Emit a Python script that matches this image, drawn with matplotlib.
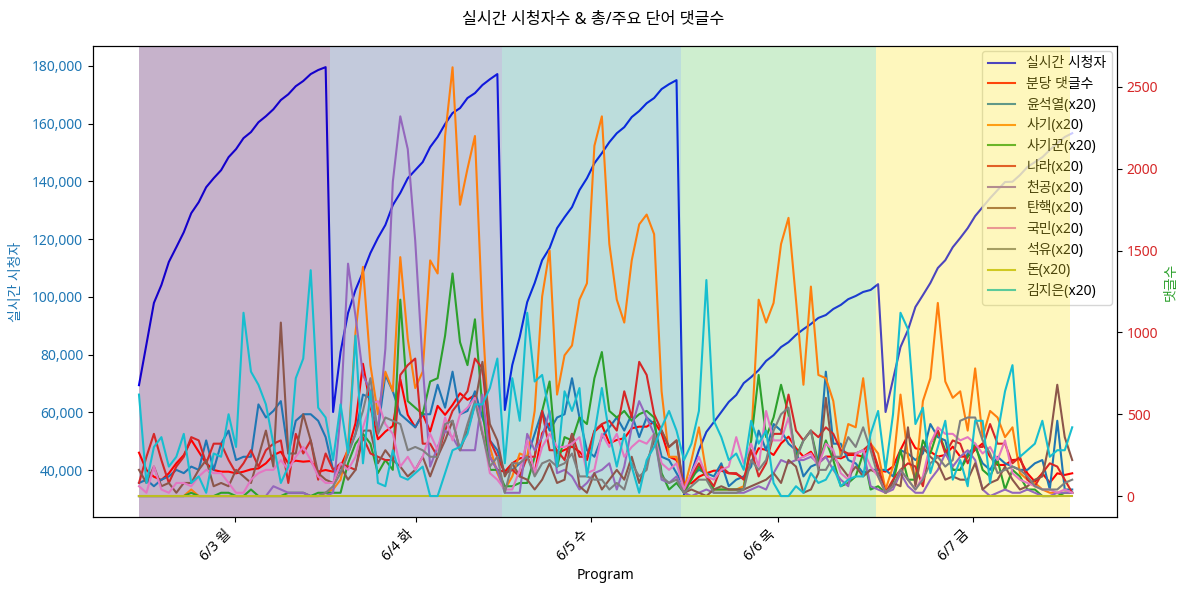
import matplotlib
matplotlib.use('Agg')
import matplotlib.pyplot as plt
import numpy as np
from matplotlib.ticker import FuncFormatter

plt.rcParams['font.family'] = ['Noto Sans', 'Noto Sans CJK KR', 'DejaVu Sans']
plt.rcParams['axes.unicode_minus'] = False

day_labels = ['6/3 월', '6/4 화', '6/5 수', '6/6 목', '6/7 금']
day_edges = [0, 25.6, 48.6, 72.6, 98.7, 124.7]

viewers = [
    69400, 83600, 97900, 104100, 112100, 117200, 122400, 129000, 132800, 138000, 141100, 143900, 148400,
    151200, 155000, 157100, 160500, 162600, 165000, 168200, 170200, 173000, 174800, 177200, 178600, 179600,
    60100, 80900, 94400, 102400, 108600, 115200, 120400, 124900, 131800, 136000, 141100, 143900, 146700,
    151900, 155400, 159900, 163700, 165400, 168900, 170600, 173400, 175400, 177200,
    60800, 76400, 86100, 98200, 104800, 112700, 116900, 123800, 127600, 131100, 137000, 141100, 146300,
    149800, 153600, 156700, 158800, 162300, 164400, 167100, 168900, 172000, 173700, 175100,
    31300, 39000, 46900, 53200, 56600, 60100, 63600, 66000, 70100, 72200, 74600, 77800, 79800, 82600, 84300,
    86800, 88800, 90600, 92700, 93700, 95800, 97200, 99200, 100300, 101700, 102400, 104400,
    60100, 71400, 82600, 88500, 96500, 100600, 104800, 110000, 112700, 117200, 120400, 123800, 128000,
    131100, 134200, 137000, 139800, 139900, 142200, 145000, 146700, 148400, 150900, 153300, 155400, 156700,
]

comments = [
    265, 159, 118, 98, 139, 200, 250, 343, 271, 200, 159, 149, 149, 139, 149, 163, 169, 200, 250, 271, 200,
    216, 210, 214, 149, 159,
    149, 180, 282, 445, 808, 547, 347, 394, 428, 714, 496, 420, 502, 394, 551, 496, 557, 628, 588, 618, 384,
    241, 159,
    149, 200, 230, 241, 139, 384, 445, 261, 282, 302, 271, 220, 394, 434, 322, 343, 353, 414, 424, 424, 455,
    384, 241, 220, 78, 78, 118, 139, 155, 155, 139, 135, 108, 200, 292, 282, 251, 322, 363, 292, 241, 271,
    200, 241, 241, 230, 251, 251, 241, 322, 159, 149,
    180, 282, 373, 292, 282, 271, 241, 251, 302, 241, 241, 282, 322, 241, 190, 190, 220, 224, 139, 88, 139,
    82, 139, 129, 139,
]

# word counts per minute, plotted x20
yoon = [
    4, 5, 3, 5, 6, 8, 7, 9, 8, 17, 8, 16, 20, 11, 12, 12, 28, 24, 26, 29, 13, 23, 25, 25, 23, 18,
    8, 7, 13, 19, 31, 30, 20, 37, 32, 25, 23, 21, 25, 25, 34, 27, 38, 25, 26, 32, 24, 17, 14,
    7, 8, 10, 12, 19, 26, 20, 24, 25, 36, 24, 14, 12, 18, 21, 24, 20, 25, 18, 24, 22, 12, 11, 7, 3, 6, 8, 7,
    6, 10, 3, 5, 6, 9, 20, 14, 22, 20, 16, 14, 6, 9, 10, 38, 16, 16, 11, 10, 7, 8, 8, 8,
    6, 14, 13, 11, 13, 22, 18, 17, 8, 8, 13, 15, 10, 8, 12, 10, 9, 8, 8, 10, 11, 2, 23, 2, 2,
]
sagi = [
    0, 0, 0, 0, 0, 0, 0, 2, 0, 0, 0, 0, 0, 0, 0, 0, 0, 0, 0, 0, 0, 0, 0, 0, 0, 1,
    2, 5, 15, 50, 70, 40, 25, 38, 32, 73, 48, 33, 38, 72, 68, 110, 131, 89, 100, 110, 55, 15, 7,
    2, 6, 13, 12, 26, 61, 75, 31, 43, 46, 60, 65, 107, 116, 77, 60, 53, 72, 83, 86, 80, 32, 12, 12, 2, 11, 21,
    7, 2, 2, 2, 2, 3, 17, 60, 53, 59, 77, 85, 60, 34, 64, 37, 36, 29, 12, 22, 21, 36, 16, 13, 2,
    9, 31, 12, 5, 29, 36, 59, 35, 30, 32, 20, 39, 18, 26, 24, 18, 21, 7, 5, 4, 2, 1, 1, 1, 1,
]
sagikkun = [
    0, 0, 0, 0, 0, 0, 0, 1, 0, 0, 0, 1, 1, 0, 0, 2, 0, 0, 0, 0, 1, 1, 1, 0, 1, 1,
    1, 1, 10, 16, 19, 16, 7, 11, 8, 60, 29, 27, 25, 35, 36, 49, 68, 47, 40, 54, 27, 8, 8,
    3, 3, 4, 4, 12, 26, 35, 9, 18, 17, 24, 22, 36, 44, 26, 24, 26, 23, 25, 26, 24, 7, 2, 4, 1, 5, 9, 6, 2, 2,
    2, 2, 2, 17, 37, 18, 24, 34, 25, 12, 17, 20, 10, 17, 11, 3, 4, 6, 13, 2, 3, 1,
    4, 14, 5, 5, 17, 13, 20, 14, 8, 8, 12, 16, 8, 6, 11, 2, 8, 6, 2, 2, 0, 0, 0, 1, 1,
]
nara = [
    4, 12, 19, 11, 4, 9, 12, 18, 17, 10, 16, 16, 11, 7, 10, 14, 9, 14, 16, 17, 4, 19, 13, 17, 5, 13,
    8, 10, 9, 8, 18, 13, 12, 11, 11, 37, 40, 42, 16, 16, 12, 20, 26, 29, 32, 42, 39, 17, 12,
    7, 8, 6, 12, 12, 26, 14, 14, 11, 19, 12, 12, 20, 22, 23, 20, 32, 24, 41, 37, 25, 20, 15, 17, 2, 6, 10, 6,
    3, 9, 7, 7, 5, 14, 6, 10, 19, 19, 31, 20, 17, 20, 18, 21, 19, 14, 13, 13, 14, 16, 9, 1,
    5, 8, 10, 9, 3, 16, 20, 13, 17, 16, 10, 15, 15, 22, 16, 16, 10, 12, 5, 3, 7, 10, 9, 5, 1,
]
cheongong = [
    0, 0, 0, 0, 0, 0, 0, 0, 0, 0, 0, 0, 0, 0, 0, 0, 0, 0, 3, 2, 1, 1, 1, 0, 0, 0,
    1, 25, 71, 55, 37, 32, 20, 45, 96, 116, 106, 78, 40, 9, 15, 20, 18, 14, 14, 14, 31, 12, 8,
    1, 1, 1, 19, 14, 18, 26, 7, 8, 6, 2, 4, 7, 8, 10, 2, 9, 21, 29, 24, 19, 5, 4, 6, 1, 0, 1, 2, 1, 1, 1, 1, 1,
    2, 3, 2, 7, 11, 10, 11, 11, 12, 10, 12, 8, 5, 3, 13, 14, 3, 2, 1,
    2, 7, 3, 1, 1, 5, 8, 13, 9, 12, 14, 11, 2, 0, 1, 2, 1, 1, 2, 1, 0, 0, 1, 1, 1,
]
tanhaek = [
    8, 4, 9, 3, 4, 1, 4, 4, 8, 11, 3, 4, 3, 8, 6, 4, 12, 20, 9, 53, 13, 13, 25, 17, 7, 5,
    4, 9, 5, 8, 20, 20, 10, 14, 11, 9, 6, 8, 12, 6, 12, 17, 23, 14, 20, 28, 41, 22, 17,
    6, 10, 6, 5, 2, 5, 10, 4, 5, 19, 3, 1, 7, 2, 5, 8, 5, 12, 4, 10, 17, 20, 15, 17, 1, 2, 1, 0, 2, 3, 2, 2, 2,
    3, 4, 5, 7, 4, 11, 9, 1, 2, 7, 30, 12, 9, 6, 9, 6, 8, 7, 1,
    4, 3, 21, 3, 15, 12, 10, 5, 6, 5, 5, 10, 2, 4, 5, 9, 5, 2, 3, 5, 6, 17, 34, 18, 11,
]
gukmin = [
    3, 1, 9, 2, 1, 4, 4, 3, 6, 8, 7, 7, 4, 1, 1, 5, 7, 8, 8, 11, 8, 12, 15, 11, 6, 4,
    4, 10, 8, 12, 21, 28, 29, 22, 19, 9, 12, 8, 12, 19, 14, 24, 17, 25, 27, 30, 20, 7, 5,
    2, 2, 8, 17, 7, 15, 19, 15, 15, 16, 18, 7, 8, 19, 15, 19, 12, 15, 17, 16, 19, 10, 8, 10, 2, 7, 12, 6, 5,
    8, 9, 18, 10, 16, 9, 26, 17, 17, 24, 11, 12, 13, 9, 16, 14, 7, 5, 13, 14, 9, 6, 1,
    3, 8, 5, 2, 6, 16, 21, 19, 19, 17, 18, 16, 13, 15, 11, 17, 7, 5, 4, 3, 2, 2, 1, 2, 1,
]
seokyu = [
    0, 0, 0, 0, 0, 0, 0, 0, 0, 0, 0, 0, 0, 0, 0, 0, 0, 0, 0, 0, 0, 0, 0, 0, 0, 1,
    3, 7, 13, 19, 26, 36, 19, 24, 23, 22, 14, 15, 14, 12, 12, 22, 23, 14, 22, 29, 19, 9, 12,
    1, 10, 10, 12, 6, 10, 11, 9, 10, 13, 6, 6, 5, 5, 2, 4, 2, 10, 6, 8, 19, 6, 4, 5, 1, 3, 5, 5, 1, 1, 1, 1, 2,
    11, 8, 11, 20, 25, 27, 11, 17, 20, 8, 8, 12, 12, 18, 15, 21, 14, 6, 1,
    3, 8, 5, 2, 5, 10, 12, 9, 11, 23, 24, 24, 17, 13, 7, 8, 9, 8, 6, 3, 2, 2, 2, 4, 5,
]
don = [0] * 126
kim = [
    31, 4, 15, 18, 9, 12, 19, 4, 6, 1, 13, 12, 25, 15, 56, 38, 34, 28, 16, 4, 9, 36, 42, 69, 27, 24,
    11, 28, 13, 49, 10, 32, 4, 3, 14, 6, 5, 7, 9, 0, 0, 7, 14, 15, 19, 28, 28, 33, 42,
    10, 36, 23, 56, 35, 37, 25, 9, 32, 26, 33, 6, 19, 33, 19, 9, 19, 9, 1, 11, 15, 21, 26, 20, 11, 16, 26, 66,
    23, 18, 11, 13, 8, 23, 16, 20, 4, 0, 0, 3, 1, 7, 4, 5, 9, 3, 5, 6, 6, 19, 26, 8,
    25, 56, 51, 22, 27, 7, 15, 23, 5, 11, 3, 23, 23, 4, 19, 32, 40, 12, 14, 16, 23, 12, 14, 14, 21,
]

word_names = ['윤석열', '사기', '사기꾼', '나라', '천공', '탄핵', '국민', '석유', '돈', '김지은']
word_counts = [yoon, sagi, sagikkun, nara, cheongong, tanhaek, gukmin, seokyu, don, kim]
word_colors = ['tab:blue', 'tab:orange', 'tab:green', 'tab:red', 'tab:purple',
               'tab:brown', 'tab:pink', 'tab:gray', 'tab:olive', 'tab:cyan']

x = np.arange(len(viewers))

fig, ax1 = plt.subplots(figsize=(11.89, 5.93), dpi=100)
fig.subplots_adjust(left=93 / 1189, right=1117 / 1189, top=1 - 46 / 593, bottom=1 - 517 / 593)
ax2 = ax1.twinx()

handles = ax1.plot(x, viewers, color='blue', label='실시간 시청자')

# spans sit on ax2 so they tint the viewer line and the legend too
span_colors = plt.cm.viridis(np.linspace(0, 1, len(day_labels)))
for i in range(len(day_labels)):
    ax2.axvspan(day_edges[i], day_edges[i + 1], color=span_colors[i], alpha=0.3, linewidth=0)

handles += ax2.plot(x, comments, color='red', label='분당 댓글수')
for name, counts, color in zip(word_names, word_counts, word_colors):
    handles += ax2.plot(x, np.array(counts) * 20, color=color, label=name + '(x20)')

ax1.set_xlim(-6.16, 131.0)
ax1.set_ylim(23716, 186930)
ax2.set_ylim(-128, 2750)

ax1.yaxis.set_major_formatter(FuncFormatter(lambda v, pos: format(int(v), ',')))
ax1.tick_params(axis='y', labelcolor='tab:blue')
ax2.tick_params(axis='y', labelcolor='tab:red')
ax1.set_ylabel('실시간 시청자', color='tab:blue', labelpad=6)
ax2.set_ylabel('댓글수', color='tab:green')
ax1.set_xlabel('Program', labelpad=3)

centers = [(day_edges[i] + day_edges[i + 1]) / 2 for i in range(len(day_labels))]
ax1.set_xticks(centers)
ax1.set_xticklabels(day_labels, rotation=45, ha='right')

ax1.legend(handles, [h.get_label() for h in handles], loc='upper right', labelspacing=0.41, borderaxespad=0.35)
fig.text(0.4985, 1 - 20 / 593, '실시간 시청자수 & 총/주요 단어 댓글수', fontsize=11.7, ha='center', va='center')

fig.savefig('out.png', dpi=100)
